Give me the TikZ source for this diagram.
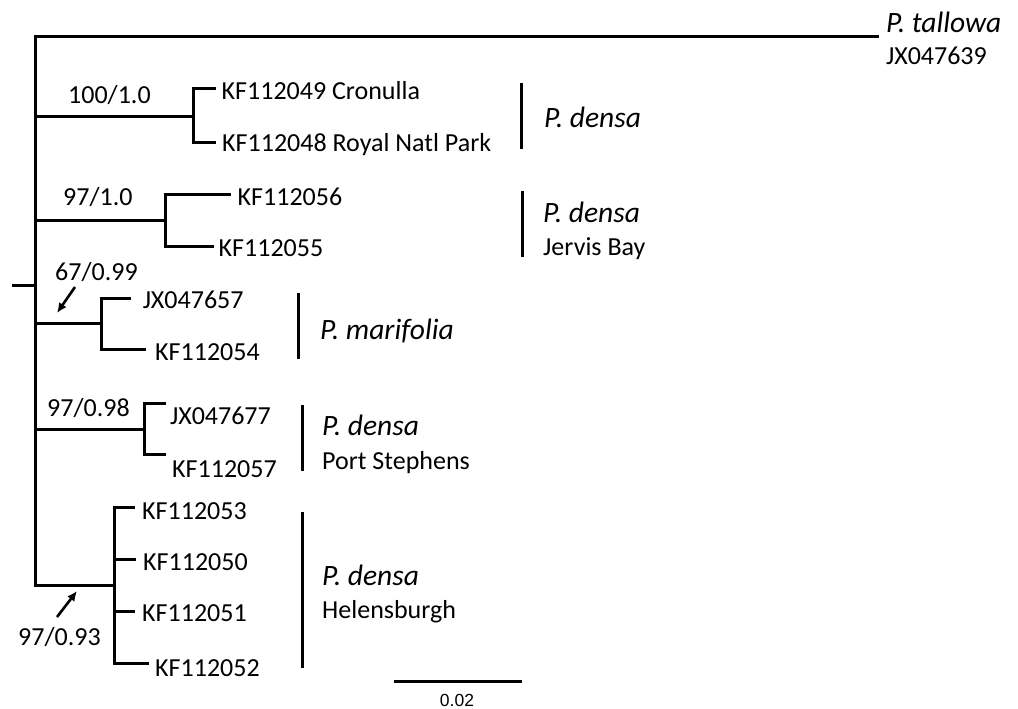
\documentclass[tikz,border=0pt]{standalone}
\usepackage{fontspec}
\setmainfont{Carlito}
\newfontfamily\barfont{Liberation Sans}
\usetikzlibrary{arrows.meta,positioning}

\begin{document}
\begin{tikzpicture}[
  x=1pt,y=-1pt,
  br/.style={line width=3pt,black},
  bar/.style={line width=3pt,black},
  pt/.style={-{Latex[length=10pt,width=9pt]},line width=2.6pt,black},
  tip/.style={anchor=base west,inner sep=0pt,font=\fontsize{26}{30}\selectfont},
  sp/.style={anchor=base west,inner sep=0pt,font=\fontsize{29.5}{33}\selectfont\itshape},
  sup/.style={anchor=base west,inner sep=0pt,font=\fontsize{26}{30}\selectfont}
]
\useasboundingbox (0,0) rectangle (1018,709);
\coordinate (st) at (12,285);
\coordinate (rt) at (35,285);
\coordinate (t0) at (879,37);
\coordinate (n1) at (193,116);
\coordinate (t11) at (216,89);
\coordinate (t12) at (216,142);
\coordinate (n2) at (165,220);
\coordinate (t21) at (231,194);
\coordinate (t22) at (214,246);
\coordinate (n3) at (101,323);
\coordinate (t31) at (131,298);
\coordinate (t32) at (146,349);
\coordinate (n4) at (144,429);
\coordinate (t41) at (166,403);
\coordinate (t42) at (166,454);
\coordinate (n5) at (114,585);
\coordinate (t51) at (135,507);
\coordinate (t52) at (136,559);
\coordinate (t53) at (135,611);
\coordinate (t54) at (149,663);
% backbone
\draw[br] (st) -- (rt);
\draw[br] (rt) |- (t0);
\draw[br] (rt) |- (n1);
\draw[br] (rt) |- (n2);
\draw[br] (rt) |- (n3);
\draw[br] (rt) |- (n4);
\draw[br] (rt) |- (n5);
% clades
\draw[br] (t11) -| (n1) |- (t12);
\draw[br] (t21) -| (n2) |- (t22);
\draw[br] (t31) -| (n3) |- (t32);
\draw[br] (t41) -| (n4) |- (t42);
\draw[br] (t51) -| (n5) |- (t54);
\draw[br] (n5 |- t52) -- (t52);
\draw[br] (n5 |- t53) -- (t53);
% tip labels
\node[sp] (tal) at (886,33) {P. tallowa};
\node[tip] (tal2) at (886,65) {JX047639};
\node[tip] (l11) at (221.5,99.5) {KF112049 Cronulla};
\node[tip] (l12) at (222,151.7) {KF112048 Royal Natl Park};
\node[tip] (l21) at (237.5,205) {KF112056};
\node[tip] (l22) at (218.5,256) {KF112055};
\node[tip] (l31) at (142.7,308) {JX047657};
\node[tip] (l32) at (155,360) {KF112054};
\node[tip] (l41) at (170,424) {JX047677};
\node[tip] (l42) at (172,477) {KF112057};
\node[tip] (l51) at (142,519.5) {KF112053};
\node[tip] (l52) at (143,570.5) {KF112050};
\node[tip] (l53) at (142,621.5) {KF112051};
\node[tip] (l54) at (155,676.5) {KF112052};
% support values
\node[sup] (s1) at (68,103) {100/1.0};
\node[sup] (s2) at (63,205) {97/1.0};
\node[sup] (s3) at (55,280) {67/0.99};
\node[sup] (s4) at (47,416.7) {97/0.98};
\node[sup] (s5) at (18,645) {97/0.93};
\coordinate (a1s) at (75,287);
\coordinate (a1e) at (57,313);
\coordinate (a2s) at (57,617);
\coordinate (a2e) at (77,591);
\draw[pt] (a1s) -- (a1e);
\draw[pt] (a2s) -- (a2e);
% clade bars
\coordinate (b1t) at (521,83);  \coordinate (b1b) at (521,149);
\coordinate (b2t) at (522,191); \coordinate (b2b) at (522,257);
\coordinate (b3t) at (298,293); \coordinate (b3b) at (298,359);
\coordinate (b4t) at (302,405); \coordinate (b4b) at (302,471);
\coordinate (b5t) at (302,512); \coordinate (b5b) at (302,668);
\draw[bar] (b1t) -- (b1b);
\draw[bar] (b2t) -- (b2b);
\draw[bar] (b3t) -- (b3b);
\draw[bar] (b4t) -- (b4b);
\draw[bar] (b5t) -- (b5b);
\node[sp] (c1) at (544,128) {P. densa};
\node[sp] (c2) at (543,222) {P. densa};
\node[tip] (c2b) at (543,255) {Jervis Bay};
\node[sp] (c3) at (320,339) {P. marifolia};
\node[sp] (c4) at (322,435) {P. densa};
\node[tip] (c4b) at (322,469) {Port Stephens};
\node[sp] (c5) at (322,585) {P. densa};
\node[tip] (c5b) at (322,618) {Helensburgh};
% scale
\coordinate (sc1) at (394,681);
\coordinate (sc2) at (522,681);
\draw[bar] (sc1) -- (sc2);
\node[anchor=base,inner sep=0pt,font=\barfont\fontsize{17.5}{20}\selectfont] (scl) at (457,706) {0.02};
\end{tikzpicture}
\end{document}
